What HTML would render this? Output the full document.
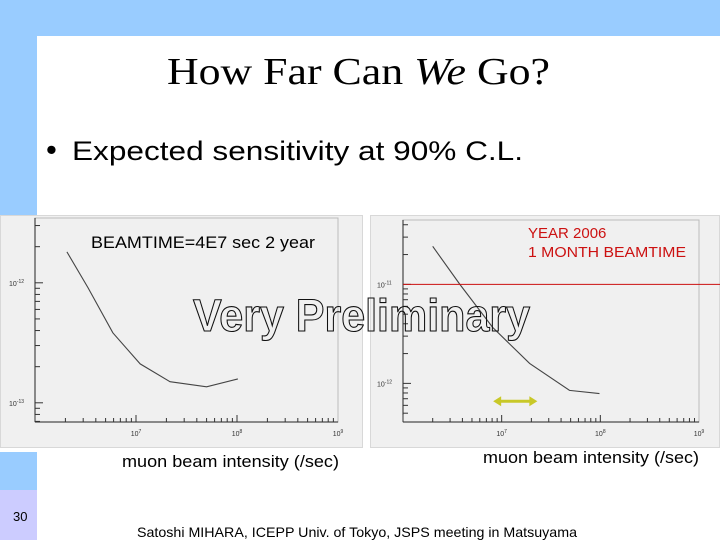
<!DOCTYPE html>
<html><head><meta charset="utf-8"><style>
html,body{margin:0;padding:0;}
body{width:720px;height:540px;position:relative;overflow:hidden;background:#fff;font-family:"Liberation Sans",sans-serif;}
</style></head><body>
<svg id="s" width="720" height="540" viewBox="0 0 720 540" xmlns="http://www.w3.org/2000/svg">
<rect x="0" y="0" width="720" height="36" fill="#99ccff"/>
<rect x="0" y="0" width="37" height="216" fill="#99ccff"/>
<rect x="0" y="452" width="37" height="38" fill="#99ccff"/>
<rect x="0" y="490" width="37" height="50" fill="#ccccff"/>
<text x="13" y="521" font-size="13" font-family="Liberation Sans, sans-serif">30</text>
<text x="167" y="84" font-size="38" font-family="Liberation Serif, serif" textLength="383" lengthAdjust="spacingAndGlyphs">How Far Can <tspan font-style="italic">We</tspan> Go?</text>
<text x="46" y="160" font-size="31">•</text>
<text x="72" y="160" font-size="27" textLength="451" lengthAdjust="spacingAndGlyphs">Expected sensitivity at 90% C.L.</text>
<rect x="0.5" y="215.5" width="362" height="232" fill="#f0f0f0" stroke="#d8d8d8"/>
<rect x="370.5" y="215.5" width="349" height="232" fill="#f0f0f0" stroke="#d8d8d8"/>
<g id="left"></g>
<g id="right"></g>
<text x="91" y="248" font-size="17" textLength="224" lengthAdjust="spacingAndGlyphs">BEAMTIME=4E7 sec 2 year</text>
<text x="528" y="238" font-size="15" fill="#cc1111">YEAR  2006</text>
<text x="528" y="257" font-size="15" fill="#cc1111" textLength="158" lengthAdjust="spacingAndGlyphs">1 MONTH BEAMTIME</text>
<text x="193" y="331" font-size="45" font-weight="bold" fill="none" stroke="#111" stroke-width="1.1" textLength="337" lengthAdjust="spacingAndGlyphs">Very Preliminary</text>
<text x="122" y="467" font-size="17" textLength="217" lengthAdjust="spacingAndGlyphs">muon beam intensity (/sec)</text>
<text x="483" y="463" font-size="17" textLength="216" lengthAdjust="spacingAndGlyphs">muon beam intensity (/sec)</text>
<text x="137" y="537" font-size="14" textLength="440" lengthAdjust="spacingAndGlyphs">Satoshi MIHARA,  ICEPP Univ. of Tokyo, JSPS meeting in Matsuyama</text>
</svg>
<script>
const leftX=[2.07e6,3.35e6,5.9e6,1.1e7,2.17e7,5.0e7,1.02e8];
const leftY=[1.81e-12,9.1e-13,3.83e-13,2.11e-13,1.5e-13,1.36e-13,1.58e-13];
const rightX=[2.0e6,3.77e6,8.1e6,1.92e7,4.87e7,9.8e7];
const rightY=[2.42e-11,1.0e-11,3.68e-12,1.59e-12,8.5e-13,7.9e-13];
const rightLimit=[1e-11];
const arrowRange=[8.2e6,2.3e7,6.6e-13];
const xTickExp=[7,8,9];
const leftYTickExp=[-12,-13];
const rightYTickExp=[-11,-12];
const NS='http://www.w3.org/2000/svg';
function mk(p,t,a){const e=document.createElementNS(NS,t);for(const k in a)e.setAttribute(k,a[k]);p.appendChild(e);return e;}
function chart(g,box,xr,yr,xs,ys,yExps,pref){
  const X=v=>box.l+(Math.log10(v)-xr[0])/(xr[1]-xr[0])*(box.r-box.l);
  const Y=v=>box.b-(Math.log10(v)-yr[0])/(yr[1]-yr[0])*(box.b-box.t);
  const fr=mk(g,'rect',{x:box.l,y:box.t,width:box.r-box.l,height:box.b-box.t,fill:'none',stroke:'#bbb'});
  
  mk(g,'line',{x1:box.l,y1:box.t,x2:box.l,y2:box.b,stroke:'#222'});
  mk(g,'line',{x1:box.l,y1:box.b,x2:box.r,y2:box.b,stroke:'#222'});
  for(let e=Math.floor(xr[0]);e<xr[1];e++)for(let m=1;m<10;m++){const v=m*Math.pow(10,e);const lv=Math.log10(v);if(lv<xr[0]||lv>xr[1])continue;const x=X(v);
    const t=mk(g,'line',{x1:x,y1:box.b,x2:x,y2:box.b-(m==1?7:4),stroke:'#333'});}
  xTickExp.forEach(e=>{const t=mk(g,'text',{x:X(Math.pow(10,e)),y:box.b+14,'font-size':7,'text-anchor':'middle',fill:'#333'});t.textContent='10';const s=mk(t,'tspan',{dy:-3,'font-size':5});s.textContent=String(e);
    });
  for(let e=Math.floor(yr[0]);e<yr[1];e++)for(let m=1;m<10;m++){const v=m*Math.pow(10,e);const lv=Math.log10(v);if(lv<yr[0]||lv>yr[1])continue;const y=Y(v);
    const t=mk(g,'line',{x1:box.l,y1:y,x2:box.l+(m==1?8:5),y2:y,stroke:'#333'});}
  yExps.forEach(e=>{const t=mk(g,'text',{x:box.l-26,y:Y(Math.pow(10,e))+3,'font-size':7,fill:'#333'});t.textContent='10';const s=mk(t,'tspan',{dy:-3,'font-size':5});s.textContent=String(e);
    });
  const pl=mk(g,'polyline',{points:xs.map((v,i)=>X(v)+','+Y(ys[i])).join(' '),fill:'none',stroke:'#444','stroke-width':1.1});
  
  return {X,Y};
}
chart(document.getElementById('left'),{l:35,r:338,t:218,b:422},[6,9],[-13.16,-11.46],leftX,leftY,leftYTickExp,'left');
const rg=document.getElementById('right');
const R=chart(rg,{l:403,r:699,t:220,b:422},[6,9],[-12.39,-10.35],rightX,rightY,rightYTickExp,'right');
const rl=mk(rg,'line',{x1:403,x2:720,y1:R.Y(rightLimit[0]),y2:R.Y(rightLimit[0]),stroke:'#cc1111','stroke-width':1});


const ax1=R.X(arrowRange[0]),ax2=R.X(arrowRange[1]),ay=R.Y(arrowRange[2]);
const ar=mk(rg,'path',{d:`M${ax1},${ay} L${ax1+8},${ay-5} L${ax1+8},${ay-1.5} L${ax2-8},${ay-1.5} L${ax2-8},${ay-5} L${ax2},${ay} L${ax2-8},${ay+5} L${ax2-8},${ay+1.5} L${ax1+8},${ay+1.5} L${ax1+8},${ay+5} Z`,fill:'#c8c828'});


</script>
</body></html>
